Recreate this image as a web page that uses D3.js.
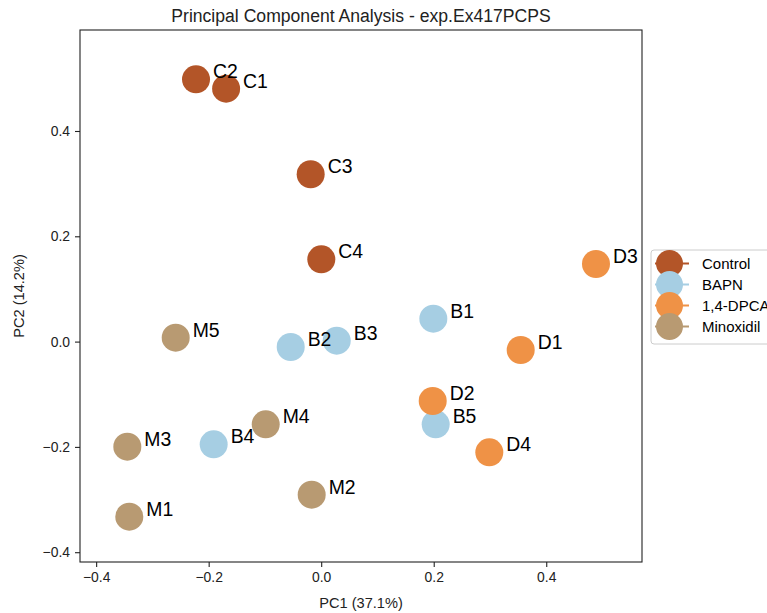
<!DOCTYPE html>
<html>
<head>
<meta charset="utf-8">
<script src="https://cdn.jsdelivr.net/npm/d3@7/dist/d3.min.js"></script>
<style>
html,body{margin:0;padding:0;background:#fff;}
svg{display:block;font-family:"Liberation Sans",Arial,sans-serif;}
</style>
</head>
<body>
<svg id="chart" width="767" height="613"></svg>
<script>
// ---- data ----
const groups = ["Control", "BAPN", "1,4-DPCA", "Minoxidil"];
const groupColors = ["#b35528", "#a6cee3", "#ef9246", "#b89a72"];
const controlLabels = ["C1", "C2", "C3", "C4"];
const controlPC1 = [-0.169, -0.2225, -0.0187, 0.0002];
const controlPC2 = [0.4803, 0.4982, 0.3178, 0.1563];
const bapnLabels = ["B1", "B2", "B3", "B4", "B5"];
const bapnPC1 = [0.1993, -0.0542, 0.0276, -0.1911, 0.2035];
const bapnPC2 = [0.0435, -0.0103, 0.0017, -0.1951, -0.1571];
const dpcaLabels = ["D1", "D2", "D3", "D4"];
const dpcaPC1 = [0.3546, 0.1982, 0.4884, 0.2988];
const dpcaPC2 = [-0.016, -0.1128, 0.1474, -0.2103];
const minoLabels = ["M1", "M2", "M3", "M4", "M5"];
const minoPC1 = [-0.3411, -0.0169, -0.3446, -0.0986, -0.2586];
const minoPC2 = [-0.3326, -0.2908, -0.1996, -0.1571, 0.0074];
const xTicks = [-0.4, -0.2, 0.0, 0.2, 0.4];
const yTicks = [-0.4, -0.2, 0.0, 0.2, 0.4];
const titleText = "Principal Component Analysis - exp.Ex417PCPS";
const xLabelText = "PC1 (37.1%)";
const yLabelText = "PC2 (14.2%)";

const series = [
  {labels: controlLabels, x: controlPC1, y: controlPC2},
  {labels: bapnLabels, x: bapnPC1, y: bapnPC2},
  {labels: dpcaLabels, x: dpcaPC1, y: dpcaPC2},
  {labels: minoLabels, x: minoPC1, y: minoPC2}
];

// ---- layout ----
const L = 80, R = 642, T = 30, B = 562;
const svg = d3.select("#chart");
const x = d3.scaleLinear().domain([-0.4287, 0.5702]).range([L, R]);
const y = d3.scaleLinear().domain([-0.4186, 0.5918]).range([B, T]);

const fmt = d3.format(".1f");
const minusFmt = v => fmt(v).replace("-", "\u2212");

// axes
const xAxis = d3.axisBottom(x).tickValues(xTicks).tickFormat(minusFmt).tickSize(5).tickPadding(5);
const yAxis = d3.axisLeft(y).tickValues(yTicks).tickFormat(minusFmt).tickSize(5).tickPadding(5);
const gx = svg.append("g").attr("transform", `translate(0,${B})`).call(xAxis);
const gy = svg.append("g").attr("transform", `translate(${L},0)`).call(yAxis);
[gx, gy].forEach(g => {
  g.select(".domain").remove();
  g.selectAll(".tick line").attr("stroke", "#222").attr("stroke-width", 1.1);
  g.selectAll(".tick text").attr("fill", "#222").style("font-size", "13.9px").style("font-family", "'Liberation Sans',Arial,sans-serif");
});

// frame
svg.append("rect").attr("x", L).attr("y", T).attr("width", R - L).attr("height", B - T)
  .attr("fill", "none").attr("stroke", "#222").attr("stroke-width", 1.1);

// points first, then labels on top
const pts = svg.append("g");
const labs = svg.append("g");
series.forEach((s, gi) => {
  s.labels.forEach((lab, i) => {
    pts.append("circle")
      .attr("cx", x(s.x[i])).attr("cy", y(s.y[i])).attr("r", 14)
      .attr("fill", groupColors[gi]);
    labs.append("text")
      .attr("x", x(s.x[i]) + 17).attr("y", y(s.y[i]) - 1)
      .attr("fill", "#000").style("font-size", "19.4px")
      .text(lab);
  });
});

// title and labels
svg.append("text").attr("x", (L + R) / 2).attr("y", 22).attr("text-anchor", "middle")
  .style("font-size", "17.6px").attr("fill", "#222").text(titleText);
svg.append("text").attr("x", (L + R) / 2).attr("y", 608).attr("text-anchor", "middle")
  .style("font-size", "14.6px").attr("fill", "#222").text(xLabelText);
svg.append("text").attr("transform", `translate(24,${(T + B) / 2}) rotate(-90)`).attr("text-anchor", "middle")
  .style("font-size", "14.6px").attr("fill", "#222").text(yLabelText);

// legend (clipped by the right edge as in the reference)
const lg = svg.append("g");
lg.append("rect").attr("x", 651).attr("y", 250).attr("width", 130).attr("height", 94)
  .attr("rx", 3).attr("fill", "#fff").attr("fill-opacity", 0.8).attr("stroke", "#ccc").attr("stroke-width", 1);
groups.forEach((g, i) => {
  const cy = 263.5 + i * 21;
  lg.append("line").attr("x1", 655).attr("x2", 689).attr("y1", cy).attr("y2", cy)
    .attr("stroke", groupColors[i]).attr("stroke-width", 2);
  lg.append("circle").attr("cx", 669.5).attr("cy", cy).attr("r", 13.5).attr("fill", groupColors[i]);
  lg.append("text").attr("x", 702).attr("y", cy + 5).style("font-size", "15px").attr("fill", "#000").text(g);
});
</script>
</body>
</html>
